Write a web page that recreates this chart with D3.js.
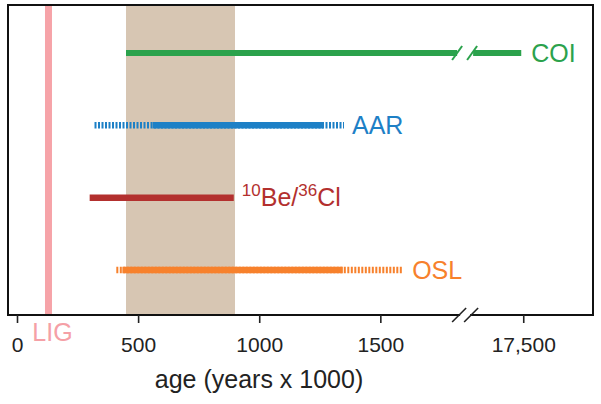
<!DOCTYPE html>
<html><head><meta charset="utf-8">
<script src="https://cdn.jsdelivr.net/npm/d3@7"></script>
<style>body{margin:0;background:#fff}svg{display:block}text{font-family:"Liberation Sans",Arial,sans-serif}</style>
</head><body><svg id="c" width="601" height="404"></svg>
<script>
// ---- data ----
const methods = ["COI", "AAR", "10Be/36Cl", "OSL"];
const solidStart = [450, 560, 300, 435];
const solidEnd = [17500, 1265, 895, 1345];
const dottedStart = [null, 320, null, 410];
const dottedEnd = [null, 1350, null, 1590];
const colors = ["#2ba24c", "#1d80c6", "#b3302e", "#f7812c"];
const tickValues = [0, 500, 1000, 1500, 17500];
const tickLabels = ["0", "500", "1000", "1500", "17,500"];
const bandRange = [450, 900];
const ligAge = 130;
const breakLow = 1850, breakHigh = 17260;

// ---- layout ----
const svg = d3.select("#c");
const frame = {l: 8, r: 593, t: 5, b: 315};
const k = 109 / 450;
const xBreak = 17 + breakLow * k;
const x = d3.scaleLinear()
  .domain([0, breakLow, breakHigh, 18800])
  .range([17, xBreak, xBreak, xBreak + (18800 - breakHigh) * k]);
const y = d3.scalePoint().domain(methods).range([53, 270]);

// band
svg.append("rect").attr("x", x(bandRange[0])).attr("y", frame.t)
  .attr("width", x(bandRange[1]) - x(bandRange[0])).attr("height", frame.b - frame.t)
  .attr("fill", "#d7c6b3");
// LIG line
svg.append("line").attr("x1", x(ligAge)).attr("x2", x(ligAge))
  .attr("y1", frame.t).attr("y2", frame.b)
  .attr("stroke", "#f6a3a8").attr("stroke-width", 7);

// bars
methods.forEach((m, i) => {
  const yy = y(m), c = colors[i];
  if (dottedStart[i] != null) {
    svg.append("line").attr("x1", x(dottedStart[i])).attr("x2", x(dottedEnd[i]))
      .attr("y1", yy).attr("y2", yy).attr("stroke", c).attr("stroke-width", 6.5)
      .attr("stroke-dasharray", "2,1.5");
  }
  if (solidEnd[i] > breakHigh) {
    svg.append("line").attr("x1", x(solidStart[i])).attr("x2", xBreak - 8)
      .attr("y1", yy).attr("y2", yy).attr("stroke", c).attr("stroke-width", 6);
    svg.append("line").attr("x1", xBreak + 8).attr("x2", x(solidEnd[i]) - 2)
      .attr("y1", yy).attr("y2", yy).attr("stroke", c).attr("stroke-width", 6);
    [-8, 7].forEach(dx => {
      svg.append("line").attr("x1", xBreak + dx - 5).attr("y1", yy + 7)
        .attr("x2", xBreak + dx + 5).attr("y2", yy - 7)
        .attr("stroke", c).attr("stroke-width", 2);
    });
  } else {
    svg.append("line").attr("x1", x(solidStart[i])).attr("x2", x(solidEnd[i]))
      .attr("y1", yy).attr("y2", yy).attr("stroke", c).attr("stroke-width", 6.5);
  }
});

// labels
const labX = [x(solidEnd[0]) + 8, x(dottedEnd[1]) + 8, x(solidEnd[2]) + 8, x(dottedEnd[3]) + 10];
methods.forEach((m, i) => {
  const t = svg.append("text").attr("x", labX[i]).attr("y", y(m) + 9)
    .attr("fill", colors[i]).attr("font-size", 25);
  if (m === "10Be/36Cl") {
    t.attr("y", y(m) + 8);
    t.append("tspan").text("10").attr("font-size", 17).attr("dy", -10);
    t.append("tspan").text("Be/").attr("dy", 10);
    t.append("tspan").text("36").attr("font-size", 17).attr("dy", -10);
    t.append("tspan").text("Cl").attr("dy", 10);
  } else {
    t.text(m);
  }
});

// frame
svg.append("rect").attr("x", frame.l).attr("y", frame.t)
  .attr("width", frame.r - frame.l).attr("height", frame.b - frame.t)
  .attr("fill", "none").attr("stroke", "#111").attr("stroke-width", 2);

// axis
const ax = svg.append("g").attr("transform", `translate(0,${frame.b})`)
  .call(d3.axisBottom(x).tickValues(tickValues)
    .tickFormat((d, i) => tickLabels[i]).tickSize(8).tickPadding(14));
ax.select(".domain").remove();
ax.selectAll(".tick line").attr("stroke", "#222").attr("stroke-width", 1.6);
ax.selectAll(".tick text").attr("font-size", 21).attr("fill", "#222")
  .attr("font-family", '"Liberation Sans",Arial,sans-serif');

// axis break
svg.append("rect").attr("x", xBreak - 5).attr("y", frame.b - 3).attr("width", 10).attr("height", 6).attr("fill", "#fff");
[-6, 6].forEach(dx => {
  svg.append("line").attr("x1", xBreak + dx - 7).attr("y1", frame.b + 7)
    .attr("x2", xBreak + dx + 7).attr("y2", frame.b - 7)
    .attr("stroke", "#222").attr("stroke-width", 1.6);
});

// LIG label
svg.append("text").attr("x", x(ligAge) + 4).attr("y", 341).attr("text-anchor", "middle")
  .attr("fill", "#f5a0a6").attr("font-size", 25).text("LIG");

// axis title
svg.append("text").attr("x", 259).attr("y", 388).attr("text-anchor", "middle")
  .attr("fill", "#222").attr("font-size", 25).text("age (years x 1000)");
</script></body></html>
